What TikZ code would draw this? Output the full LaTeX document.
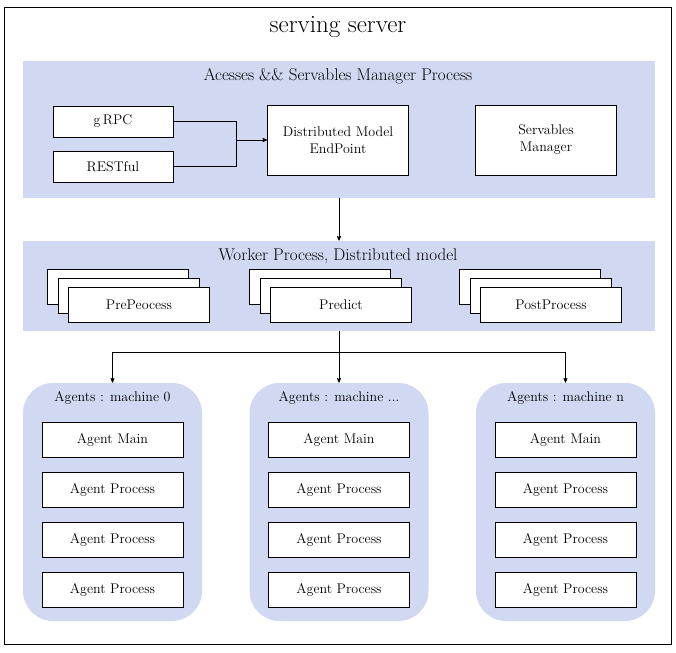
\documentclass[tikz,border=0pt]{standalone}
\usepackage{fontspec}
\usetikzlibrary{arrows,positioning}
\definecolor{panelblue}{RGB}{208,217,241}
\newcommand{\machdots}{...}

\begin{document}
\begin{tikzpicture}[x=1pt,y=-1pt,>=stealth',line width=0.7pt,
  panel/.style={fill=panelblue,draw=none,inner sep=0pt},
  agent panel/.style={panel,rounded corners=30pt,minimum width=179pt,minimum height=238pt},
  box/.style={draw,fill=white,inner sep=0pt,minimum width=141pt,minimum height=35pt,font=\fontsize{14}{17}\selectfont,align=center},
  small box/.style={box,minimum width=120pt,minimum height=31pt},
  big box/.style={box,minimum height=70pt},
  title/.style={font=\fontsize{14}{17}\selectfont},
  head/.style={font=\fontsize{17}{20}\selectfont}]
  \useasboundingbox (0,0) rectangle (676,652);
  \draw (4.5,7.5) rectangle (671.5,644);
  \node[font=\fontsize{25}{28}\selectfont] (srv) at (338,27) {serving server};

  % access layer
  \node[panel,minimum width=632pt,minimum height=137pt] (acc) at (339,129.5) {};
  \node[head] (acct) at (338,76.5) {Acesses \&\& Servables Manager Process};
  \node[small box] (grpc) at (113,121.5) {g\,RPC};
  \node[small box] (rest) at (113,166.5) {RESTful};
  \node[big box] (dme) at (338,140) {Distributed Model\\EndPoint};
  \node[big box] (sm) at (546,140) {Servables\\Manager};
  \coordinate (mrg) at (236,140);
  \draw (grpc.east) -| (mrg);
  \draw (rest.east) -| (mrg);
  \draw[->] (mrg) -- (dme);

  % worker layer
  \node[panel,minimum width=632pt,minimum height=90pt] (wrk) at (339,286) {};
  \node[head] (wrkt) at (338,256.5) {Worker Process, Distributed model};
  \foreach \x/\txt/\nm in {118/PrePeocess/pre,320/Predict/prd,530/PostProcess/post}{
    \node[box] (\nm3) at (\x,286.5) {};
    \node[box] (\nm2) at (\x+11,295.5) {};
    \node[box] (\nm1) at (\x+21,305) {\txt};
  }
  \draw[->] (acc.south) -- (wrk.north);

  % agents
  \foreach \cx/\lbl/\i in {112.5/0/a,339/\machdots/b,565.5/n/c}{
    \node[agent panel] (m\i) at (\cx,502) {};
    \node[title] (m\i t) at (\cx,397.5) {Agents : machine \lbl};
    \node[box] (m\i main) at (\cx,439.5) {Agent Main};
    \foreach \j/\y in {1/489.5,2/539.5,3/589.5}
      \node[box] (m\i p\j) at (\cx,\y) {Agent Process};
  }
  \coordinate (split) at (wrk.south |- 0,352);
  \draw (wrk.south) -- (split);
  \draw[->] (split) -| (ma.north);
  \draw[->] (split) -- (mb.north);
  \draw[->] (split) -| (mc.north);
\end{tikzpicture}
\end{document}
